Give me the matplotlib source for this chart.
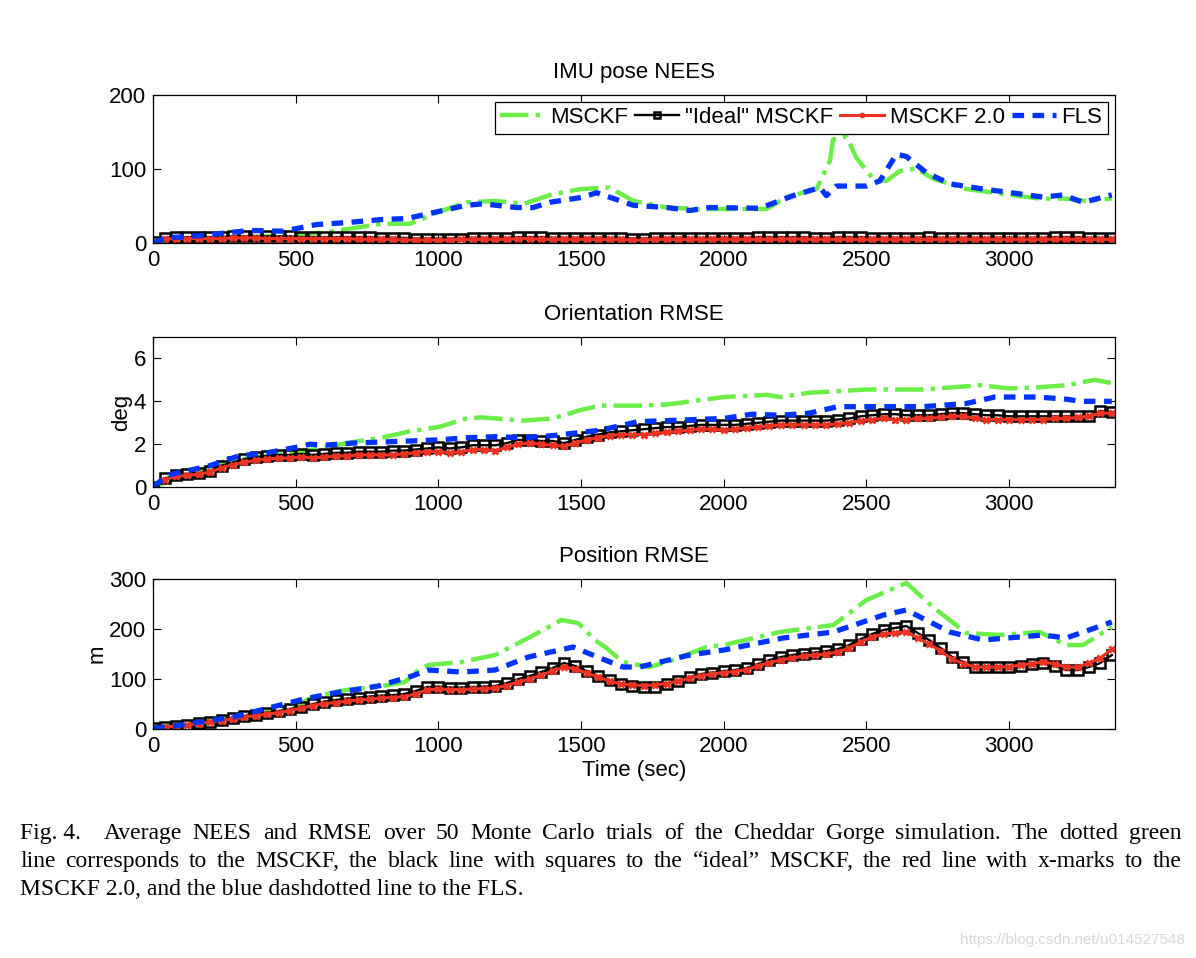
import numpy as np
import matplotlib
matplotlib.use("Agg")
import matplotlib.pyplot as plt

### Series
# black / red series have one sample every 40 s (one marker per sample)
step = 40

nees_ideal = [1, 7, 8, 8, 8, 8, 8, 9, 9, 9,
              9, 9, 9, 8, 8, 8, 8, 8, 8, 8,
              7, 7, 7, 6, 6, 6, 6, 6, 7, 7,
              7, 7, 8, 8, 8, 7, 7, 7, 7, 7,
              7, 7, 6, 6, 7, 7, 7, 7, 7, 7,
              7, 7, 7, 8, 8, 8, 8, 8, 7, 7,
              8, 8, 8, 7, 7, 7, 7, 7, 8, 7,
              7, 7, 7, 7, 7, 7, 7, 7, 7, 8,
              8, 8, 7, 7, 7]
nees_m2 = [1, 5, 6, 6, 6, 6, 6, 7, 7, 7,
           6, 6, 6, 6, 6, 6, 6, 6, 5, 5,
           5, 5, 4, 4, 4, 4, 4, 5, 5, 5,
           5, 5, 6, 6, 5, 5, 5, 5, 5, 5,
           5, 5, 4, 4, 5, 5, 5, 5, 5, 5,
           5, 5, 5, 5, 5, 5, 6, 5, 5, 5,
           5, 5, 5, 5, 5, 5, 5, 5, 5, 5,
           5, 5, 5, 5, 5, 5, 5, 5, 5, 5,
           5, 5, 5, 5, 5]

ori_ideal = [0.0, 0.4, 0.55, 0.6, 0.65, 0.75, 1.0, 1.15, 1.3, 1.4,
             1.45, 1.5, 1.5, 1.55, 1.5, 1.55, 1.6, 1.6, 1.65, 1.65,
             1.65, 1.7, 1.7, 1.75, 1.8, 1.85, 1.8, 1.85, 1.95, 1.95,
             1.95, 2.05, 2.2, 2.2, 2.15, 2.15, 2.05, 2.2, 2.35, 2.45,
             2.55, 2.6, 2.65, 2.7, 2.75, 2.8, 2.8, 2.85, 2.9, 2.9,
             2.9, 2.9, 2.95, 3.0, 3.05, 3.1, 3.1, 3.1, 3.1, 3.1,
             3.15, 3.2, 3.3, 3.35, 3.4, 3.4, 3.35, 3.35, 3.35, 3.4,
             3.45, 3.45, 3.4, 3.35, 3.35, 3.3, 3.3, 3.3, 3.3, 3.3,
             3.3, 3.3, 3.3, 3.55, 3.5]
ori_m2 = [0.0, 0.35, 0.5, 0.55, 0.6, 0.7, 0.9, 1.05, 1.15, 1.25,
          1.3, 1.35, 1.35, 1.4, 1.35, 1.4, 1.45, 1.45, 1.5, 1.5,
          1.5, 1.5, 1.55, 1.6, 1.65, 1.65, 1.6, 1.65, 1.75, 1.75,
          1.7, 1.85, 2.0, 2.05, 2.0, 1.95, 1.9, 2.05, 2.2, 2.3,
          2.4, 2.45, 2.45, 2.45, 2.5, 2.55, 2.6, 2.65, 2.7, 2.7,
          2.65, 2.7, 2.75, 2.8, 2.85, 2.9, 2.9, 2.9, 2.9, 2.9,
          2.95, 3.0, 3.1, 3.15, 3.2, 3.15, 3.15, 3.2, 3.2, 3.25,
          3.3, 3.3, 3.2, 3.15, 3.15, 3.15, 3.15, 3.15, 3.15, 3.2,
          3.2, 3.25, 3.3, 3.45, 3.45]

pos_ideal = [2, 4, 7, 9, 12, 15, 19, 22, 26, 29,
             33, 36, 40, 45, 50, 55, 58, 61, 63, 65,
             67, 68, 70, 76, 84, 85, 83, 83, 84, 85,
             86, 92, 100, 106, 114, 122, 132, 126, 116, 106,
             98, 90, 86, 84, 84, 90, 96, 104, 110, 113,
             116, 118, 122, 130, 138, 144, 148, 151, 153, 156,
             160, 168, 180, 190, 198, 202, 206, 192, 178, 162,
             144, 134, 125, 124, 124, 125, 127, 130, 132, 126,
             118, 118, 124, 132, 148]
pos_m2 = [2, 4, 6, 8, 11, 14, 17, 20, 24, 27,
          30, 33, 37, 42, 47, 51, 53, 56, 58, 60,
          62, 63, 65, 70, 78, 80, 79, 79, 80, 81,
          82, 87, 94, 100, 108, 116, 124, 120, 112, 104,
          96, 90, 88, 87, 88, 91, 96, 102, 107, 110,
          113, 115, 119, 126, 133, 138, 142, 146, 148, 150,
          154, 162, 174, 184, 190, 192, 194, 182, 170, 156,
          140, 131, 124, 124, 124, 125, 128, 131, 134, 130,
          124, 124, 132, 142, 160]

# green (MSCKF) and blue (FLS) curves, read at irregular times
t_nees_mk = [0, 100, 200, 300, 400, 500, 600, 700, 800, 900, 1000, 1100, 1200, 1300,
             1400, 1500, 1600, 1683, 1800, 1916, 2033, 2150, 2220, 2325, 2372, 2383,
             2430, 2465, 2523, 2570, 2616, 2675, 2733, 2850, 2967, 3107, 3200, 3270, 3360]
nees_mk = [0, 4, 6, 8, 9, 11, 14, 20, 26, 26, 42, 55, 57, 53,
           66, 73, 75, 57, 48, 46, 46, 46, 62, 73, 111, 140,
           144, 115, 87, 84, 97, 101, 87, 73, 67, 60, 60, 57, 60]
t_nees_fls = [0, 48, 163, 340, 456, 573, 690, 806, 888, 981, 1098, 1156, 1273, 1332,
              1390, 1507, 1554, 1683, 1800, 1881, 1951, 2126, 2243, 2337, 2360, 2395,
              2500, 2547, 2605, 2640, 2710, 2792, 2909, 3026, 3119, 3189, 3259, 3360]
nees_fls = [0, 7, 10, 17, 16, 25, 28, 32, 33, 41, 51, 53, 48, 48,
            55, 62, 68, 51, 48, 44, 48, 47, 64, 75, 64, 77,
            77, 84, 120, 117, 95, 80, 73, 67, 62, 65, 55, 65]

t_ori_mk = [0, 100, 250, 400, 500, 600, 700, 800, 900, 1000, 1100, 1150, 1300, 1400, 1500,
            1567, 1700, 1800, 2000, 2150, 2200, 2300, 2500, 2700, 2900, 3000, 3100, 3200, 3300, 3360]
ori_mk = [0, 0.5, 1.2, 1.45, 1.6, 1.85, 2.1, 2.3, 2.6, 2.8, 3.2, 3.25, 3.1, 3.2, 3.6,
          3.8, 3.8, 3.85, 4.2, 4.3, 4.2, 4.4, 4.55, 4.55, 4.75, 4.6, 4.65, 4.75, 5.0, 4.85]
t_ori_fls = [0, 50, 100, 200, 300, 400, 500, 550, 600, 700, 800, 900, 1000, 1100, 1200,
             1300, 1400, 1500, 1567, 1700, 1800, 2000, 2100, 2200, 2300, 2400, 2500, 2700,
             2850, 2950, 3100, 3200, 3250, 3360]
ori_fls = [0, 0.55, 0.7, 1.0, 1.45, 1.6, 1.85, 2.0, 1.95, 2.05, 2.1, 2.15, 2.2, 2.3, 2.35,
           2.3, 2.4, 2.55, 2.65, 3.05, 3.1, 3.2, 3.4, 3.35, 3.45, 3.75, 3.75, 3.75,
           3.9, 4.2, 4.2, 4.1, 4.0, 4.0]

t_pos_mk = [0, 250, 500, 557, 675, 790, 883, 930, 965, 1081, 1198, 1315, 1431, 1490, 1548,
            1589, 1647, 1740, 1822, 1939, 2000, 2197, 2384, 2500, 2640, 2733, 2850, 2967,
            3107, 3200, 3259, 3360]
pos_mk = [2, 20, 44, 64, 78, 85, 94, 118, 128, 134, 148, 182, 218, 212, 178,
          162, 134, 124, 138, 164, 168, 194, 208, 258, 292, 244, 192, 188,
          194, 168, 168, 204]
t_pos_fls = [0, 48, 280, 515, 632, 790, 907, 965, 1081, 1198, 1315, 1472, 1566, 1647, 1705,
             1880, 2000, 2208, 2384, 2560, 2640, 2792, 2909, 3119, 3200, 3360]
pos_fls = [2, 4, 24, 58, 72, 86, 106, 118, 114, 118, 144, 164, 142, 124, 124,
           148, 158, 182, 194, 228, 238, 194, 178, 188, 182, 214]

xticks = [0, 500, 1000, 1500, 2000, 2500, 3000]
caption = ["Fig. 4.    Average NEES and RMSE over 50 Monte Carlo trials of the Cheddar Gorge simulation. The dotted green",
           "line corresponds to the MSCKF, the black line with squares to the \u201cideal\u201d MSCKF, the red line with x-marks to the",
           "MSCKF 2.0, and the blue dashdotted line to the FLS."]

### matplotlib settings
matplotlib.rc("font", family=["Liberation Sans", "DejaVu Sans"], size=16)
matplotlib.rc("xtick", direction="in", top=True)
matplotlib.rc("ytick", direction="in", right=True)
matplotlib.rc("xtick.major", size=6, width=0.8)
matplotlib.rc("ytick.major", size=6, width=0.8)

GREEN = "#6aee48"
BLUE = "#0033ff"
RED = "#ee3322"

fig = plt.figure(figsize=(11.96, 9.58), dpi=100)
ax1 = fig.add_axes([0.128, 0.7463, 0.804, 0.1545])
ax2 = fig.add_axes([0.128, 0.4916, 0.804, 0.1566])
ax3 = fig.add_axes([0.128, 0.2390, 0.804, 0.1566])

panels = [
    (ax1, "IMU pose NEES", None, [0, 200], [0, 100, 200],
     (t_nees_mk, nees_mk), nees_ideal, nees_m2, (t_nees_fls, nees_fls)),
    (ax2, "Orientation RMSE", "deg", [0, 7], [0, 2, 4, 6],
     (t_ori_mk, ori_mk), ori_ideal, ori_m2, (t_ori_fls, ori_fls)),
    (ax3, "Position RMSE", "m", [0, 300], [0, 100, 200, 300],
     (t_pos_mk, pos_mk), pos_ideal, pos_m2, (t_pos_fls, pos_fls)),
]

for ax, title, ylab, ylim, yticks, mk, ideal, m2, fls in panels:
    t_ideal = np.arange(len(ideal)) * step
    t_m2 = np.arange(len(m2)) * step
    ax.plot(mk[0], mk[1], color=GREEN, linestyle="-.", linewidth=3.2, label="MSCKF")
    ax.plot(t_ideal, ideal, color="black", linestyle="-", linewidth=1.7,
            marker="s", markersize=6.5, markerfacecolor="none", markeredgewidth=1.8,
            label="\"Ideal\" MSCKF")
    ax.plot(t_m2, m2, color=RED, linestyle="-", linewidth=2.2,
            marker="x", markersize=5, markeredgewidth=2.2, label="MSCKF 2.0")
    ax.plot(fls[0], fls[1], color=BLUE, linestyle="--", linewidth=3.8,
            dashes=(2.2, 1.6), label="FLS")
    ax.set_xlim(0, 3370)
    ax.set_ylim(ylim)
    ax.set_xticks(xticks)
    ax.set_yticks(yticks)
    ax.set_title(title, fontsize=16, pad=12)
    if ylab:
        ax.set_ylabel(ylab, fontsize=16, labelpad=1)
    for s in ax.spines.values():
        s.set_linewidth(0.9)
    ax.tick_params(labelsize=16, pad=5)

ax3.set_xlabel("Time (sec)", fontsize=16, labelpad=2)

leg = ax1.legend(loc="upper right", ncol=4, fontsize=16, frameon=True, fancybox=False,
                 edgecolor="black", framealpha=1, handlelength=2.0, handletextpad=0.25,
                 columnspacing=0.3, borderaxespad=0.3, borderpad=0.25, markerscale=0.7,
                 numpoints=1)
leg.get_frame().set_linewidth(0.9)

### Caption, justified over the first two lines
fig.canvas.draw()
renderer = fig.canvas.get_renderer()
x_left, x_right = 20 / 1196, 1182 / 1196
line_y = [839, 867, 895]
cap_size = 17
for i, line in enumerate(caption):
    y = 1 - line_y[i] / 958
    if i == len(caption) - 1:
        fig.text(x_left, y, line, family="Liberation Serif", fontsize=cap_size, va="baseline")
        continue
    words = line.split()
    if line.startswith("Fig. 4."):
        words = ["Fig. 4.  "] + line[len("Fig. 4."):].split()
    items = []
    for w in words:
        t = fig.text(0, y, w, family="Liberation Serif", fontsize=cap_size, va="baseline")
        bb = t.get_window_extent(renderer)
        items.append((t, bb.width / fig.bbox.width))
    total = sum(wd for _, wd in items)
    gap = (x_right - x_left - total) / (len(items) - 1)
    x = x_left
    for t, wd in items:
        t.set_x(x)
        x += wd + gap

fig.text(1185 / 1196, 1 - 940 / 958, "https://blog.csdn.net/u014527548", fontsize=11,
         color="#d8d8d8", ha="right", va="center")

plt.savefig("out.png", dpi=100)
